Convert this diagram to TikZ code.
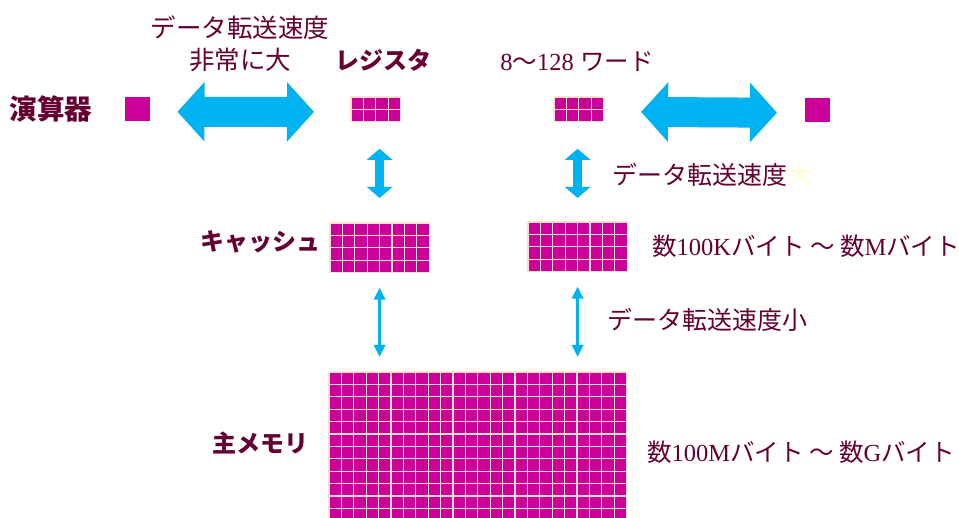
\documentclass[tikz,border=0pt]{standalone}
\usepackage{fontspec}
\setmainfont{Liberation Serif}
\newfontfamily\jp{Noto Sans CJK JP}
\usetikzlibrary{calc,arrows.meta}
\definecolor{mag}{RGB}{204,0,153}
\definecolor{arrblue}{RGB}{0,178,240}
\definecolor{txt}{RGB}{102,0,51}
\definecolor{gline}{RGB}{255,225,205}
\definecolor{faint}{RGB}{255,255,204}
\tikzset{
  gridnode/.style={fill=mag,draw=none,inner sep=0pt,outer sep=0pt,minimum width=#1},
  gridlinestyle/.style={draw=gline,line width=1.2pt},
  sq/.style={fill=mag,draw=none,inner sep=0pt,outer sep=0pt,minimum size=24.5pt},
  lbl/.style={text=txt,inner sep=0pt,font=\jp\bfseries\fontsize{24}{28}\selectfont},
  plain/.style={text=txt,inner sep=0pt,font=\jp\fontsize{25}{32}\selectfont},
  sizes/.style={text=txt,inner sep=0pt,font=\jp\fontsize{24.5}{30}\selectfont},
  bigarr/.style={draw=arrblue,line width=30pt,{Triangle[length=27pt,width=58pt]}-{Triangle[length=27pt,width=58pt]}},
  midarr/.style={draw=arrblue,line width=9pt,{Triangle[length=11pt,width=25pt]}-{Triangle[length=11pt,width=25pt]}},
  thinarr/.style={draw=arrblue,line width=3.5pt,{Triangle[length=12pt,width=11pt]}-{Triangle[length=12pt,width=11pt]}}
}
\newcommand\cellgrid[5]{%
  \node[gridnode=#4*12.4pt,minimum height=#5*12.4pt,anchor=north west] (#1) at (#2,#3) {};
  \foreach \i in {0,...,#4} \draw[gridlinestyle] ($(#1.north west)+(\i*12.4,0)$) -- ($(#1.south west)+(\i*12.4,0)$);
  \foreach \j in {0,...,#5} \draw[gridlinestyle] ($(#1.north west)+(0,\j*12.4)$) -- ($(#1.north east)+(0,\j*12.4)$);
}
\begin{document}
\begin{tikzpicture}[x=1pt,y=-1pt]
\useasboundingbox (0,0) rectangle (959,518);
\fill[white] (0,0) rectangle (959,518);
\begin{scope}
\clip (0,0) rectangle (959,518);
% grids
\cellgrid{regL}{351}{97}{4}{2}
\cellgrid{regR}{554}{97}{4}{2}
\cellgrid{cacheL}{330}{223}{8}{4}
\cellgrid{cacheR}{528}{222}{8}{4}
\cellgrid{mainM}{329}{372}{24}{12}
\end{scope}
% ALU squares
\node[sq,anchor=north west] (aluL) at (125,97) {};
\node[sq,anchor=north west] (aluR) at (805,98) {};
% labels
\node[lbl,font=\jp\bfseries\fontsize{27.5}{30}\selectfont] (lalu) at (51,109) {演算器};
\node[lbl] (lreg) at (383,60) {レジスタ};
\node[lbl] (lcache) at (260,242) {キャッシュ};
\node[lbl] (lmain) at (260,443) {主メモリ};
\node[plain,align=center,font=\jp\fontsize{25.5}{32}\selectfont] (tfast) at (240,44) {データ転送速度\\非常に大};
\node[sizes] (words) at (577,62) {{\rmfamily 8}〜{\rmfamily 128 }ワード};
\node[plain,anchor=west] (tbig) at (612,175) {データ転送速度\textcolor{faint}{大}};
\node[plain,anchor=west] (tsmall) at (607,320) {データ転送速度小};
\node[sizes,anchor=west] (scache) at (652,246) {数{\rmfamily 100K}バイト ～ 数{\rmfamily M}バイト};
\node[sizes,anchor=west] (smain) at (647,452) {数{\rmfamily 100M}バイト ～ 数{\rmfamily G}バイト};
% arrows
\draw[bigarr] ([xshift=28pt,yshift=-2.5pt]aluL.east) -- ([xshift=-37pt,yshift=-2.5pt]regL.west);
\draw[bigarr] ([xshift=37.5pt,yshift=-2.5pt]regR.east) -- ([xshift=-28pt,yshift=-2.5pt]aluR.west);
\draw[midarr] ([yshift=-27pt]cacheL.north |- regL.south) -- ([yshift=25pt]cacheL.north);
\draw[midarr] ([yshift=-27pt]cacheR.north |- regR.south) -- ([yshift=24pt]cacheR.north);
\draw[thinarr] ([yshift=-15pt]cacheL.south) -- ([yshift=15pt]cacheL.south |- mainM.north);
\draw[thinarr] ([yshift=-15pt]cacheR.south) -- ([yshift=15pt]cacheR.south |- mainM.north);
\end{tikzpicture}
\end{document}
